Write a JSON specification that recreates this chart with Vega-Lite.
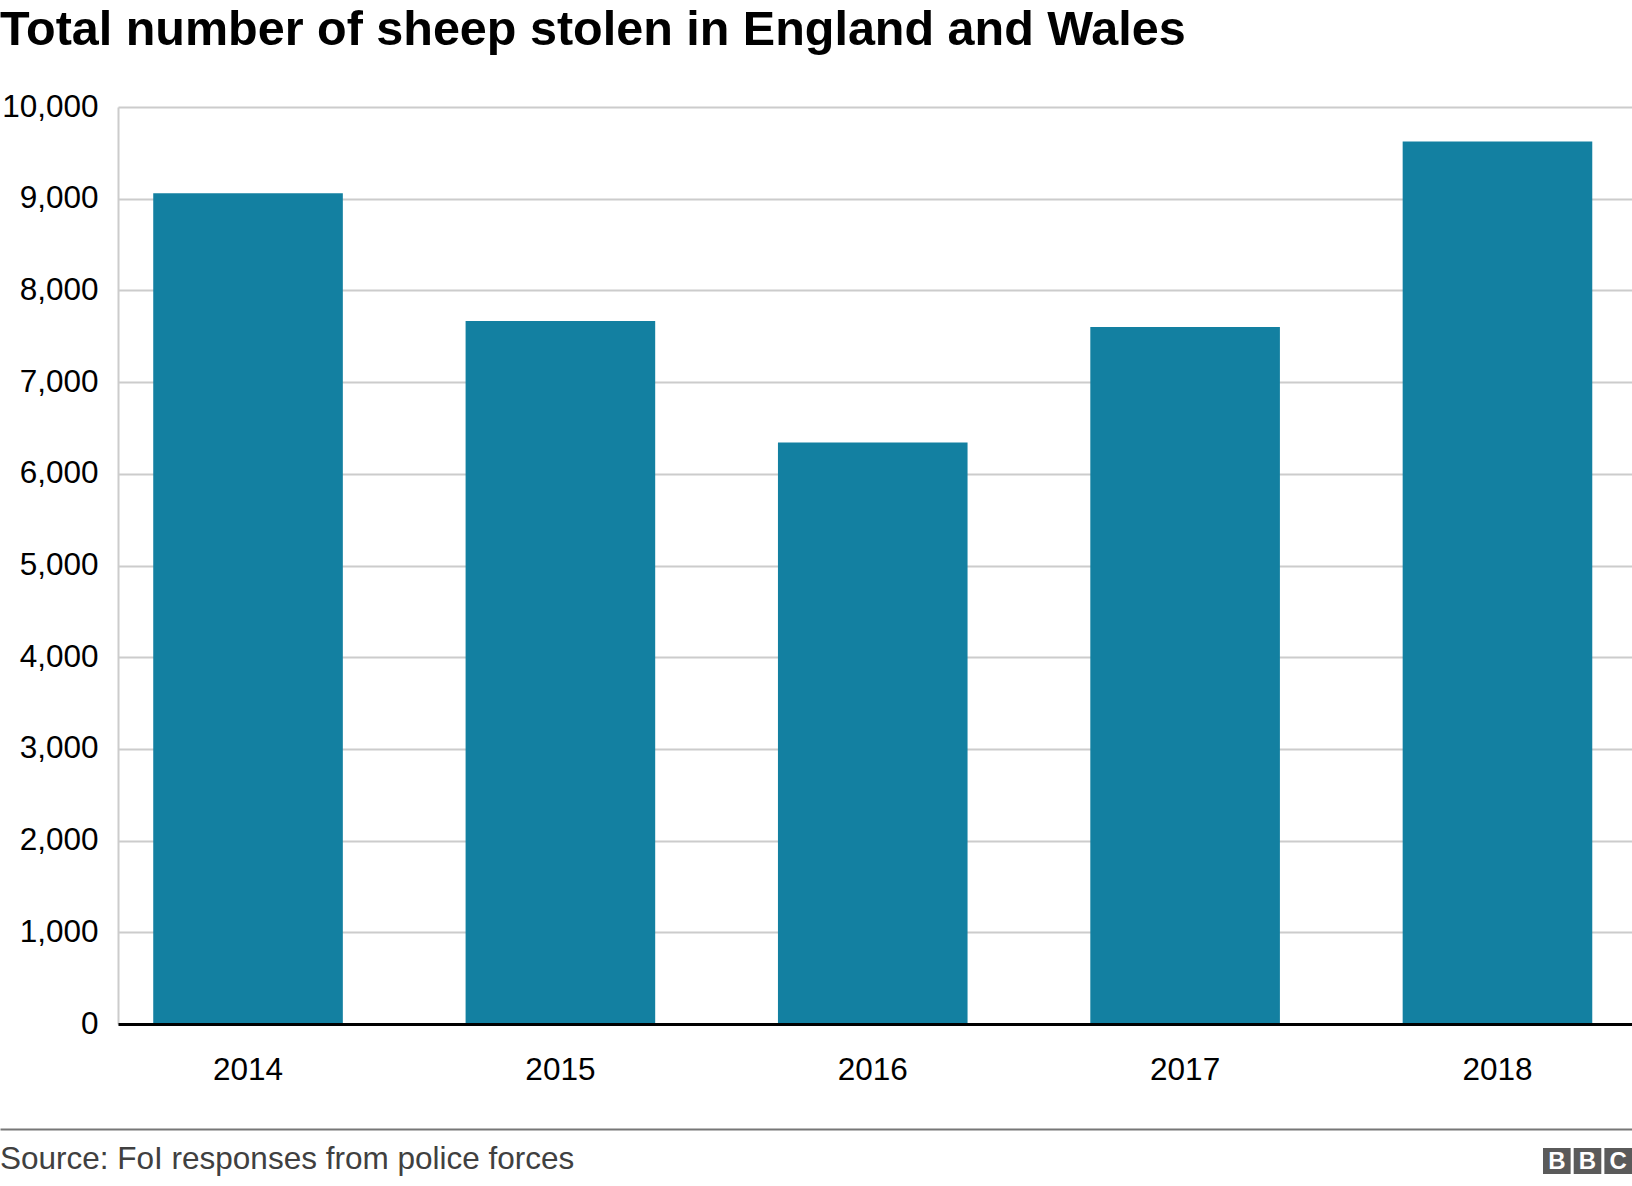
{
  "$schema": "https://vega.github.io/schema/vega-lite/v6.json",
  "background": "white",
  "padding": {"left": 0, "top": 5, "right": 0, "bottom": 0},
  "config": {
    "font": "Liberation Sans",
    "view": {"stroke": null}
  },
  "title": {
    "text": "Total number of sheep stolen in England and Wales",
    "anchor": "start",
    "frame": "bounds",
    "fontSize": 48.5,
    "fontWeight": "bold",
    "color": "#000000",
    "font": "Liberation Sans",
    "offset": 36
  },
  "spacing": 43,
  "vconcat": [
    {
      "width": 1514,
      "height": 917,
      "data": {
        "values": [
          {"year": "2014", "sheep": 9060},
          {"year": "2015", "sheep": 7665},
          {"year": "2016", "sheep": 6340},
          {"year": "2017", "sheep": 7600},
          {"year": "2018", "sheep": 9625}
        ]
      },
      "mark": {"type": "bar", "color": "#1380A1"},
      "encoding": {
        "x": {
          "field": "year",
          "type": "ordinal",
          "scale": {"paddingInner": 0.393, "paddingOuter": 0.12, "align": 0.47},
          "axis": {
            "title": null,
            "labelAngle": 0,
            "labelFontSize": 31.5,
            "labelColor": "#000000",
            "labelPadding": 30,
            "ticks": false,
            "domainColor": "#000000",
            "domainWidth": 3,
            "grid": false,
            "zindex": 1
          }
        },
        "y": {
          "field": "sheep",
          "type": "quantitative",
          "scale": {"domain": [0, 10000]},
          "axis": {
            "title": null,
            "values": [0, 1000, 2000, 3000, 4000, 5000, 6000, 7000, 8000, 9000, 10000],
            "format": ",.0f",
            "labelFontSize": 31.5,
            "labelColor": "#000000",
            "labelPadding": 20,
            "ticks": false,
            "domainColor": "#cccccc",
            "domainWidth": 2,
            "gridColor": "#cccccc",
            "gridWidth": 2
          }
        }
      }
    },
    {
      "width": 1514,
      "height": 57,
      "resolve": {"scale": {"x": "independent", "y": "independent"}, "axis": {"x": "independent"}},
      "layer": [
        {
          "data": {"values": [{"label": "Source: FoI responses from police forces"}]},
          "mark": {"type": "text", "align": "left", "baseline": "alphabetic", "fontSize": 31.5, "color": "#404040", "font": "Liberation Sans"},
          "encoding": {
            "x": {
              "field": "label",
              "type": "nominal",
              "scale": {"type": "point", "padding": 0, "align": 0, "range": [-118, 1514]},
              "axis": {
                "orient": "top",
                "title": null,
                "labels": false,
                "ticks": false,
                "grid": false,
                "domainColor": "#777777",
                "domainWidth": 2
              }
            },
            "y": {
              "field": "label",
              "type": "nominal",
              "scale": {"type": "point", "padding": 0, "align": 0.7},
              "axis": null
            },
            "text": {"field": "label"}
          }
        },
        {
          "data": {
            "values": [
              {"slot": "1", "letter": "B", "row": "logo"},
              {"slot": "2", "letter": "B", "row": "logo"},
              {"slot": "3", "letter": "C", "row": "logo"}
            ]
          },
          "encoding": {
            "x": {
              "field": "slot",
              "type": "ordinal",
              "scale": {"paddingInner": 0.1, "paddingOuter": 0, "range": [1425, 1514]},
              "axis": null
            },
            "y": {
              "field": "row",
              "type": "nominal",
              "scale": {"paddingInner": 0, "paddingOuter": 0.596, "align": 0.613},
              "axis": null
            }
          },
          "layer": [
            {"mark": {"type": "bar", "color": "#5a5a5a"}},
            {
              "mark": {"type": "text", "color": "white", "fontWeight": "bold", "fontSize": 24, "font": "Liberation Sans", "baseline": "middle", "dy": 1},
              "encoding": {"text": {"field": "letter"}}
            }
          ]
        }
      ]
    }
  ]
}
